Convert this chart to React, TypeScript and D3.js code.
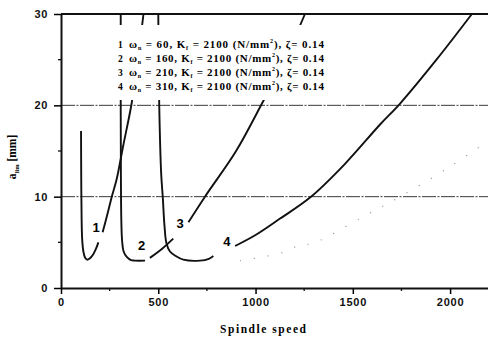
import React, { useRef, useEffect } from 'react';
import * as d3 from 'd3';

type Pt = [number, number] | null;

// spindle speed vs limiting depth of cut a_lim [mm]
const speedTicks = [0, 500, 1000, 1500, 2000];
const speedMinor = [250, 750, 1250, 1750];
const aTicks = [0, 10, 20, 30];
const aMinor = [5, 15, 25];
const gridLevels = [10, 20];

const curve1: Pt[] = [
  [103, 17.2], [104, 12], [106, 7.5], [109, 5.3], [115, 4.0], [124, 3.3], [134, 3.1],
  [146, 3.2], [166, 3.7], [180, 4.3], [192, 5.0], null,
  [214, 6.1], [240, 8.2], [261, 10], [286, 11.9], [320, 15.6], [363, 20.2], [395, 25], [424, 30],
];
const curve2: Pt[] = [
  [307, 30], [307, 20], [308, 12], [310, 7.5], [314, 5.2], [322, 4.0], [338, 3.4],
  [360, 3.05], [380, 3.0], [432, 3.0], null,
  [457, 3.3], [520, 4.3], [577, 5.4], null,
  [655, 7.2], [740, 10], [900, 15], [1033, 20.2], [1150, 25], [1254, 30],
];
const curve3: Pt[] = [
  [500, 30], [505, 20], [515, 12.5], [523, 10], [532, 6.8], [542, 4.9], [560, 4.0],
  [590, 3.5], [629, 3.1], [715, 3.0], [760, 3.2], [783, 3.5], null,
  [895, 4.6], [1000, 5.8], [1126, 7.6], [1280, 9.9], [1460, 13.6], [1640, 17.9],
  [1743, 20.2], [1930, 25], [2112, 30],
];
const curve4: Pt[] = [
  [920, 3.0], [1126, 3.8], [1229, 4.7], [1296, 4.9], [1553, 7.8], [1743, 10],
  [2015, 13.5], [2180, 15.9],
];

const curveLabels = [
  { text: '1', speed: 180, a: 6.5 },
  { text: '2', speed: 415, a: 4.5 },
  { text: '3', speed: 612, a: 7.0 },
  { text: '4', speed: 853, a: 5.0 },
];

const legendIds = ['1', '2', '3', '4'];
const legendOmega = [60, 160, 210, 310];
const legendK = 2100;
const legendZeta = 0.14;

const App = () => {
  const ref = useRef<SVGSVGElement>(null);

  useEffect(() => {
    if (!ref.current) return;
    const svg = d3.select(ref.current);
    svg.selectAll('*').remove();

    const x = d3.scaleLinear().domain([0, 2200]).range([61, 489]);
    const y = d3.scaleLinear().domain([0, 30]).range([288, 14]);
    const sans = 'Liberation Sans, Arial, sans-serif';
    const serif = 'Liberation Serif, Times New Roman, serif';

    svg.append('defs').append('clipPath').attr('id', 'plotclip')
      .append('rect').attr('x', 61).attr('y', 13).attr('width', 430).attr('height', 276);

    // dash-dot grid lines
    svg.selectAll('.grid').data(gridLevels).enter().append('line')
      .attr('x1', x(0)).attr('x2', x(2200))
      .attr('y1', d => y(d)).attr('y2', d => y(d))
      .attr('stroke', '#222').attr('stroke-width', 0.9)
      .attr('stroke-dasharray', '14,1.5,2,1.5');

    const line = d3.line<Pt>()
      .defined(d => d !== null)
      .x(d => x((d as [number, number])[0]))
      .y(d => y((d as [number, number])[1]))
      .curve(d3.curveCatmullRom.alpha(0.5));

    const plot = svg.append('g').attr('clip-path', 'url(#plotclip)');

    plot.append('path').datum(curve4)
      .attr('fill', 'none').attr('stroke', '#888').attr('stroke-width', 1.1)
      .attr('stroke-dasharray', '1,13').attr('d', line);

    [curve1, curve2, curve3].forEach(c => {
      plot.append('path').datum(c)
        .attr('fill', 'none').attr('stroke', '#111').attr('stroke-width', 1.9)
        .attr('stroke-linejoin', 'round').attr('d', line);
    });

    plot.selectAll('.clabel').data(curveLabels).enter().append('text')
      .attr('x', d => x(d.speed)).attr('y', d => y(d.a))
      .attr('text-anchor', 'middle').attr('dominant-baseline', 'middle')
      .attr('font-family', sans).attr('font-weight', 'bold').attr('font-size', 13)
      .text(d => d.text);

    // legend box hides the curves behind it
    svg.append('rect').attr('x', 104).attr('y', 25).attr('width', 228).attr('height', 75)
      .attr('fill', '#fff');

    const leg = svg.append('g');
    legendIds.forEach((id, i) => {
      const ly = 47.5 + i * 14;
      leg.append('text').attr('x', 118).attr('y', ly)
        .attr('font-family', serif).attr('font-weight', 'bold').attr('font-size', 9.5)
        .text(id);
      const t = leg.append('text').attr('x', 129).attr('y', ly)
        .attr('font-family', serif).attr('font-size', 11).attr('font-weight', 'bold')
        .attr('textLength', 195).attr('lengthAdjust', 'spacing');
      t.append('tspan').text('ω');
      t.append('tspan').attr('font-size', 6).attr('dy', 2).text('n');
      t.append('tspan').attr('dy', -2).text(` = ${legendOmega[i]}, K`);
      t.append('tspan').attr('font-size', 6).attr('dy', 2).text('f');
      t.append('tspan').attr('dy', -2).text(` = ${legendK} (N/mm`);
      t.append('tspan').attr('font-size', 6).attr('dy', -5).text('2');
      t.append('tspan').attr('dy', 5).text(`), ζ= ${legendZeta.toFixed(2)}`);
    });

    // axes
    const yAxis = svg.append('g').attr('transform', `translate(${x(0)},0)`)
      .call(d3.axisLeft(y).tickValues(aTicks).tickSize(7).tickSizeOuter(0).tickPadding(6));
    yAxis.select('.domain').attr('stroke-width', 2).attr('stroke', '#111');
    yAxis.selectAll('.tick line').attr('stroke-width', 1.5);
    yAxis.selectAll('text').attr('font-family', sans).attr('font-weight', 'bold')
      .attr('font-size', 11).attr('letter-spacing', 0.6).attr('fill', '#111');
    svg.selectAll('.yminor').data(aMinor).enter().append('line')
      .attr('x1', x(0) - 3).attr('x2', x(0))
      .attr('y1', d => y(d)).attr('y2', d => y(d))
      .attr('stroke', '#111').attr('stroke-width', 1.3);

    const xAxis = svg.append('g').attr('transform', `translate(0,${y(0)})`)
      .call(d3.axisBottom(x).tickValues(speedTicks).tickFormat(d3.format('d'))
        .tickSize(6).tickSizeOuter(0).tickPadding(4));
    xAxis.select('.domain').attr('stroke-width', 2).attr('stroke', '#111');
    xAxis.selectAll('.tick line').attr('stroke-width', 1.5);
    xAxis.selectAll('text').attr('font-family', sans).attr('font-weight', 'bold')
      .attr('font-size', 11).attr('letter-spacing', 0.8).attr('fill', '#111');
    svg.selectAll('.xminor').data(speedMinor).enter().append('line')
      .attr('x1', d => x(d)).attr('x2', d => x(d))
      .attr('y1', y(0)).attr('y2', y(0) + 3)
      .attr('stroke', '#111').attr('stroke-width', 1.3);

    // top frame line
    svg.append('line').attr('x1', x(0)).attr('x2', x(2200))
      .attr('y1', y(30)).attr('y2', y(30))
      .attr('stroke', '#111').attr('stroke-width', 2);

    svg.append('text').attr('x', 263).attr('y', 333).attr('text-anchor', 'middle')
      .attr('font-family', serif).attr('font-weight', 'bold').attr('font-size', 11.5)
      .attr('textLength', 86).attr('lengthAdjust', 'spacing')
      .text('Spindle speed');

    const yl = svg.append('text').attr('transform', 'translate(16,157) rotate(-90)')
      .attr('text-anchor', 'middle')
      .attr('font-family', serif).attr('font-weight', 'bold').attr('font-size', 11.5);
    yl.append('tspan').text('a');
    yl.append('tspan').attr('font-size', 6.5).attr('dy', 3).text('lim');
    yl.append('tspan').attr('dy', -3).text(' [mm]');
  }, []);

  return (
    <svg ref={ref} width={488} height={339}
      style={{ position: 'absolute', left: 0, top: 0, background: '#fff' }} />
  );
};

export default App;
